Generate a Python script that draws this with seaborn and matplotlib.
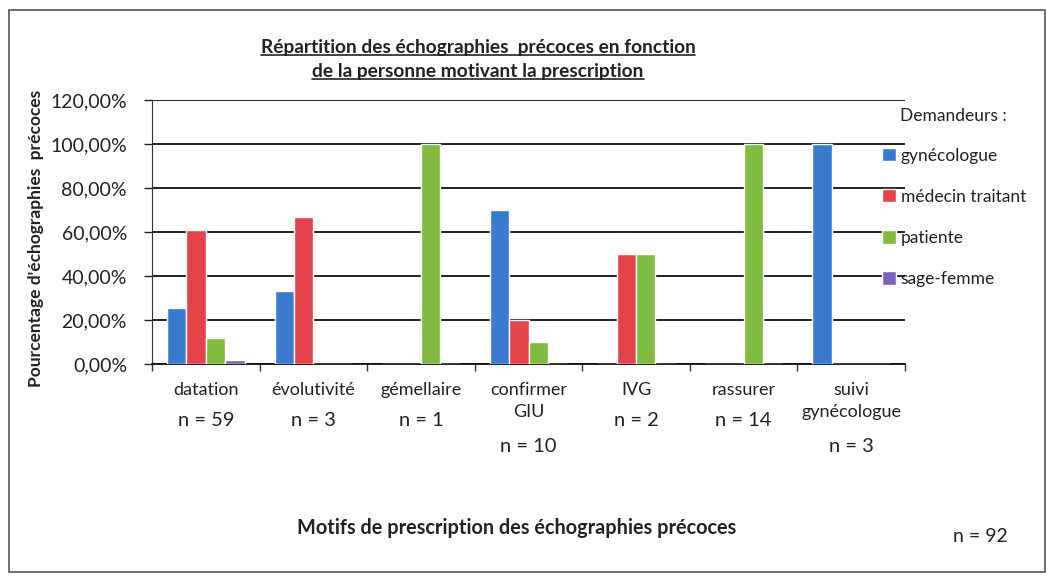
import matplotlib
matplotlib.use("Agg")
import matplotlib.pyplot as plt
import matplotlib.transforms as mtransforms
from matplotlib.ticker import FuncFormatter, FixedLocator
from matplotlib.lines import Line2D
from matplotlib.patches import Rectangle
import seaborn as sns
import pandas as pd

# Data
motifs = ["datation", "évolutivité", "gémellaire", "confirmer\nGIU",
          "IVG", "rassurer", "suivi\ngynécologue"]
effectifs = ["n = 59", "n = 3", "n = 1", "n = 10", "n = 2", "n = 14", "n = 3"]
demandeurs = ["gynécologue", "médecin traitant", "patiente", "sage-femme"]

gynecologue = [25.4, 33.3, 0, 70.0, 0, 0, 100.0]
medecin_traitant = [61.0, 66.7, 0, 20.0, 50.0, 0, 0]
patiente = [11.9, 0, 100.0, 10.0, 50.0, 100.0, 0]
sage_femme = [1.7, 0, 0, 0, 0, 0, 0]

colors = ["#3a7bd0", "#e5434b", "#7fbb3e", "#7d63b8"]

# long table for seaborn
series = [gynecologue, medecin_traitant, patiente, sage_femme]
rows = []
for name, values in zip(demandeurs, series):
    for motif, v in zip(motifs, values):
        rows.append({"motif": motif, "demandeur": name, "pct": v})
df = pd.DataFrame(rows)

sns.set_style("white")
plt.rcParams["font.family"] = ["Lato", "DejaVu Sans"]

fig = plt.figure(figsize=(10.5, 5.76), dpi=100)
ax = fig.add_axes([152 / 1050, 1 - 364 / 576, (905 - 152) / 1050, (364 - 100) / 576])

sns.barplot(data=df, x="motif", y="pct", hue="demandeur", palette=colors,
            width=0.72, ax=ax, saturation=1, zorder=3)

ax.set_ylim(0, 120)
ax.set_xlim(-0.5, len(motifs) - 0.5)
ax.set_yticks(range(0, 121, 20))
ax.yaxis.set_major_formatter(FuncFormatter(lambda v, p: f"{v:.2f}%".replace(".", ",")))
ax.tick_params(axis="y", labelsize=14, length=6, width=1, direction="out",
               left=True, colors="#222222", pad=12)
ax.yaxis.grid(True, color="#111111", linewidth=1.3, zorder=0)
ax.set_axisbelow(True)

# category ticks at the boundaries, labels drawn by hand
ax.set_xticks([])
ax.xaxis.set_minor_locator(FixedLocator([i - 0.5 for i in range(len(motifs) + 1)]))
ax.tick_params(axis="x", which="minor", length=5, width=1, direction="out",
               bottom=True, colors="#333333")
ax.set_xlabel("")
ax.set_ylabel("")

for side in ["top", "right"]:
    ax.spines[side].set_visible(False)
ax.spines["left"].set_color("#333333")
ax.spines["bottom"].set_color("#111111")
ax.spines["bottom"].set_linewidth(1.3)

trans = mtransforms.blended_transform_factory(ax.transData, ax.transAxes)
for i, (m, n) in enumerate(zip(motifs, effectifs)):
    ax.text(i, -0.07, m, transform=trans, ha="center", va="top",
            fontsize=13, color="#222222", linespacing=1.45)
    ny = -0.28 if "\n" in m else -0.18
    ax.text(i, ny, n, transform=trans, ha="center", va="top",
            fontsize=14.5, color="#222222")

# legend on the right (title written separately, aligned with the labels)
handles, labels = ax.get_legend_handles_labels()
ax.get_legend().remove()
leg = fig.legend(handles, labels, loc="upper left", bbox_to_anchor=(866 / 1050, 1 - 132 / 576),
                 frameon=False, fontsize=12.5, labelspacing=1.45, handlelength=0.8,
                 handleheight=0.8, handletextpad=0.3)
for txt in leg.get_texts():
    txt.set_color("#222222")
fig.text(900 / 1050, 1 - 116 / 576, "Demandeurs :", ha="left", va="center",
         fontsize=12.5, color="#222222")

# title, axis labels
t1 = fig.text(478 / 1050, 1 - 48 / 576, "Répartition des échographies  précoces en fonction",
              ha="center", va="center", fontsize=13.8, fontweight="bold", color="#222222")
t2 = fig.text(478 / 1050, 1 - 72 / 576, "de la personne motivant la prescription",
              ha="center", va="center", fontsize=13.8, fontweight="bold", color="#222222")
fig.text(36 / 1050, 1 - 238 / 576, "Pourcentage d'échographies  précoces", rotation=90,
         ha="center", va="center", fontsize=12.5, fontweight="bold", color="#222222")
fig.text(517 / 1050, 1 - 528 / 576, "Motifs de prescription des échographies précoces",
         ha="center", va="center", fontsize=14.3, fontweight="bold", color="#222222")
fig.text(980 / 1050, 1 - 537 / 576, "n = 92", ha="center", va="center",
         fontsize=14, color="#222222")

# underline the title lines
fig.canvas.draw()
renderer = fig.canvas.get_renderer()
inv = fig.transFigure.inverted()
for t in (t1, t2):
    bb = t.get_window_extent(renderer).transformed(inv)
    fig.add_artist(Line2D([bb.x0, bb.x1], [bb.y0 + 0.002, bb.y0 + 0.002],
                          transform=fig.transFigure, color="#222222", linewidth=1.2))

# frame around the whole chart
fig.add_artist(Rectangle((9 / 1050, 1 - 572 / 576), (1045 - 9) / 1050, (572 - 10) / 576,
                         transform=fig.transFigure, fill=False, edgecolor="#555555",
                         linewidth=1.2))

fig.savefig("out.png", dpi=100)
